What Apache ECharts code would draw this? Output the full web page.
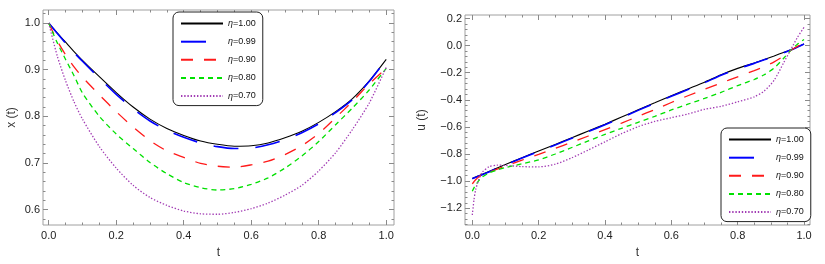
<!DOCTYPE html>
<html><head><meta charset="utf-8">
<script src="https://cdn.jsdelivr.net/npm/echarts@6/dist/echarts.min.js"></script>
<style>html,body{margin:0;padding:0;background:#fff}#c{width:825px;height:264px}</style>
</head><body><div id="c"></div>
<script>
// ---------- data ----------
const seriesNames = ['η=1.00', 'η=0.99', 'η=0.90', 'η=0.80', 'η=0.70'];

// left panel: x(t)
const tLeft = [0, 0.025, 0.05, 0.075, 0.1, 0.15, 0.2, 0.25, 0.3, 0.35, 0.4, 0.45, 0.5, 0.55, 0.6, 0.65, 0.7, 0.75, 0.8, 0.85, 0.9, 0.95, 1.0];
const x100 = [1.000, 0.979, 0.959, 0.939, 0.920, 0.885, 0.851, 0.820, 0.794, 0.774, 0.759, 0.747, 0.740, 0.736, 0.737, 0.743, 0.754, 0.768, 0.787, 0.810, 0.838, 0.876, 0.922];
const x099 = [1.000, 0.978, 0.957, 0.937, 0.918, 0.882, 0.847, 0.816, 0.790, 0.770, 0.755, 0.743, 0.735, 0.731, 0.732, 0.739, 0.750, 0.765, 0.784, 0.808, 0.836, 0.875, 0.922];
const x090 = [1.000, 0.962, 0.932, 0.906, 0.884, 0.846, 0.810, 0.777, 0.748, 0.726, 0.712, 0.699, 0.693, 0.691, 0.696, 0.704, 0.718, 0.737, 0.763, 0.797, 0.832, 0.870, 0.903];
const x080 = [1.000, 0.958, 0.922, 0.887, 0.850, 0.800, 0.762, 0.731, 0.701, 0.677, 0.658, 0.647, 0.642, 0.645, 0.654, 0.668, 0.689, 0.715, 0.746, 0.782, 0.818, 0.857, 0.903];
const x070 = [1.000, 0.930, 0.876, 0.831, 0.794, 0.735, 0.689, 0.652, 0.626, 0.609, 0.597, 0.591, 0.590, 0.594, 0.602, 0.614, 0.631, 0.652, 0.683, 0.722, 0.772, 0.829, 0.905];

// right panel: u(t)
const tRight = [0, 0.005, 0.01, 0.02, 0.03, 0.05, 0.075, 0.1, 0.15, 0.2, 0.25, 0.3, 0.35, 0.4, 0.45, 0.5, 0.55, 0.6, 0.65, 0.7, 0.75, 0.8, 0.85, 0.88, 0.91, 0.94, 0.96, 0.98, 1.0];
const u100 = [-0.980, -0.975, -0.970, -0.960, -0.950, -0.930, -0.903, -0.877, -0.827, -0.778, -0.729, -0.680, -0.630, -0.580, -0.527, -0.474, -0.422, -0.370, -0.320, -0.270, -0.215, -0.168, -0.128, -0.102, -0.076, -0.049, -0.031, -0.010, 0.012];
const u099 = [-0.982, -0.977, -0.972, -0.962, -0.953, -0.933, -0.906, -0.880, -0.830, -0.781, -0.733, -0.684, -0.634, -0.584, -0.531, -0.478, -0.426, -0.374, -0.324, -0.274, -0.219, -0.172, -0.131, -0.105, -0.079, -0.051, -0.033, -0.011, 0.012];
const u090 = [-1.020, -1.005, -0.990, -0.968, -0.952, -0.935, -0.912, -0.890, -0.845, -0.802, -0.758, -0.713, -0.667, -0.620, -0.572, -0.522, -0.472, -0.420, -0.370, -0.322, -0.276, -0.230, -0.185, -0.155, -0.120, -0.075, -0.035, -0.005, 0.015];
const u080 = [-1.075, -1.050, -1.030, -0.995, -0.970, -0.940, -0.918, -0.900, -0.872, -0.843, -0.800, -0.752, -0.703, -0.655, -0.610, -0.566, -0.522, -0.475, -0.432, -0.390, -0.345, -0.295, -0.250, -0.215, -0.165, -0.090, -0.035, 0.010, 0.045];
const u070 = [-1.250, -1.140, -1.065, -0.985, -0.935, -0.895, -0.882, -0.884, -0.893, -0.895, -0.875, -0.828, -0.770, -0.710, -0.650, -0.598, -0.560, -0.532, -0.505, -0.470, -0.448, -0.415, -0.378, -0.335, -0.255, -0.120, -0.030, 0.060, 0.135];

// tick values
const tTicks = [0, 0.2, 0.4, 0.6, 0.8, 1.0];
const tMinor = [0.05, 0.1, 0.15, 0.25, 0.3, 0.35, 0.45, 0.5, 0.55, 0.65, 0.7, 0.75, 0.85, 0.9, 0.95];
const xTicks = [0.6, 0.7, 0.8, 0.9, 1.0];
const xMinor = [0.58, 0.62, 0.64, 0.66, 0.68, 0.72, 0.74, 0.76, 0.78, 0.82, 0.84, 0.86, 0.88, 0.92, 0.94, 0.96, 0.98, 1.02];
const uTicks = [-1.2, -1.0, -0.8, -0.6, -0.4, -0.2, 0.0, 0.2];
const uMinor = [-1.32, -1.28, -1.24, -1.16, -1.12, -1.08, -1.04, -0.96, -0.92, -0.88, -0.84, -0.76, -0.72, -0.68, -0.64, -0.56, -0.52, -0.48, -0.44, -0.36, -0.32, -0.28, -0.24, -0.16, -0.12, -0.08, -0.04, 0.04, 0.08, 0.12, 0.16];

// ---------- chart ----------
const FONT = 'Liberation Sans, Arial, sans-serif';
const TICK = '#8a8a8a';
const fmt = v => (v < 0 ? '\u2212' : '') + Math.abs(v).toFixed(1);

function axis(grid, pos, min, max, vals, len, withLabels, extra) {
  const a = {
    type: 'value', gridIndex: grid, position: pos, min: min, max: max,
    axisLine: { show: false, onZero: false }, splitLine: { show: false },
    axisTick: { show: true, inside: true, length: len, customValues: vals, lineStyle: { color: TICK, width: 1 } },
    axisLabel: withLabels
      ? { show: true, customValues: vals, formatter: fmt, margin: withLabels, fontSize: 11, fontFamily: FONT, color: '#222' }
      : { show: false }
  };
  return Object.assign(a, extra || {});
}

const nameStyle = { fontSize: 12, fontFamily: FONT, color: '#333' };
const xAxes = [];
const yAxes = [];
// left panel (grid 0): axes 0..3
const LX = [-0.017, 1.023], LY = [0.567, 1.028];
xAxes.push(axis(0, 'bottom', LX[0], LX[1], tTicks, 5, 5, { name: 't', nameLocation: 'middle', nameGap: 22, nameTextStyle: nameStyle }));
xAxes.push(axis(0, 'bottom', LX[0], LX[1], tMinor, 2.5, 0));
xAxes.push(axis(0, 'top', LX[0], LX[1], tTicks, 5, 0));
xAxes.push(axis(0, 'top', LX[0], LX[1], tMinor, 2.5, 0));
yAxes.push(axis(0, 'left', LY[0], LY[1], xTicks, 5, 3, { name: 'x (t)', nameLocation: 'middle', nameGap: 25, nameRotate: 90, nameTextStyle: nameStyle }));
yAxes.push(axis(0, 'left', LY[0], LY[1], xMinor, 2.5, 0));
yAxes.push(axis(0, 'right', LY[0], LY[1], xTicks, 5, 0));
yAxes.push(axis(0, 'right', LY[0], LY[1], xMinor, 2.5, 0));
// right panel (grid 1): axes 4..7
const RX = [-0.022, 1.018], RY = [-1.324, 0.226];
xAxes.push(axis(1, 'bottom', RX[0], RX[1], tTicks, 5, 5, { name: 't', nameLocation: 'middle', nameGap: 22, nameTextStyle: nameStyle }));
xAxes.push(axis(1, 'bottom', RX[0], RX[1], tMinor, 2.5, 0));
xAxes.push(axis(1, 'top', RX[0], RX[1], tTicks, 5, 0));
xAxes.push(axis(1, 'top', RX[0], RX[1], tMinor, 2.5, 0));
yAxes.push(axis(1, 'left', RY[0], RY[1], uTicks, 5, 3, { name: 'u (t)', nameLocation: 'middle', nameGap: 37, nameRotate: 90, nameTextStyle: nameStyle }));
yAxes.push(axis(1, 'left', RY[0], RY[1], uMinor, 2.5, 0));
yAxes.push(axis(1, 'right', RY[0], RY[1], uTicks, 5, 0));
yAxes.push(axis(1, 'right', RY[0], RY[1], uMinor, 2.5, 0));

const styles = [
  { color: '#000000', width: 1.1, type: 'solid' },
  { color: '#0000ff', width: 1.6, type: [25, 17] },
  { color: '#ff1a1a', width: 1.3, type: [12, 11] },
  { color: '#00e000', width: 1.3, type: [5, 4] },
  { color: '#a23cb4', width: 1.3, type: [1.4, 1.8] }
];
const leftData = [x100, x099, x090, x080, x070];
const rightData = [u100, u099, u090, u080, u070];

const series = [];
function addSeries(ts, arrs, xi, yi) {
  arrs.forEach((vals, i) => {
    series.push({
      type: 'line', name: seriesNames[i], xAxisIndex: xi, yAxisIndex: yi,
      data: ts.map((t, k) => [t, vals[k]]),
      symbol: 'none', smooth: 0.25, silent: true,
      lineStyle: { color: styles[i].color, width: styles[i].width, type: styles[i].type, cap: 'butt' },
      itemStyle: { color: styles[i].color },
      animation: false
    });
  });
}
addSeries(tLeft, leftData, 0, 0);
addSeries(tRight, rightData, 4, 4);

function legend(left, top) {
  return {
    orient: 'vertical', left: left, top: top, data: seriesNames,
    itemWidth: 42, itemHeight: 14, itemGap: 6.9, padding: [6, 7, 4, 7],
    borderColor: '#222', borderWidth: 1, borderRadius: 6, backgroundColor: '#fff',
    selectedMode: false,
    itemStyle: { opacity: 0 },
    formatter: n => '{i|η}{n|' + n.slice(1) + '}',
    textStyle: {
      fontSize: 9, fontFamily: FONT, color: '#111',
      rich: { i: { fontStyle: 'italic', fontSize: 9, fontFamily: FONT, color: '#111' }, n: { fontSize: 9, fontFamily: FONT, color: '#111' } }
    }
  };
}

const chart = echarts.init(document.getElementById('c'), null, { renderer: 'canvas' });
chart.setOption({
  backgroundColor: '#fff',
  animation: false,
  grid: [
    { left: 43, top: 10, width: 351, height: 218, show: true, borderColor: '#a0a0a0', borderWidth: 1, backgroundColor: 'transparent' },
    { left: 465, top: 15, width: 345, height: 213, show: true, borderColor: '#a0a0a0', borderWidth: 1, backgroundColor: 'transparent' }
  ],
  xAxis: xAxes,
  yAxis: yAxes,
  legend: [legend(173, 12), legend(721, 128)],
  series: series
});
</script>
</body></html>
